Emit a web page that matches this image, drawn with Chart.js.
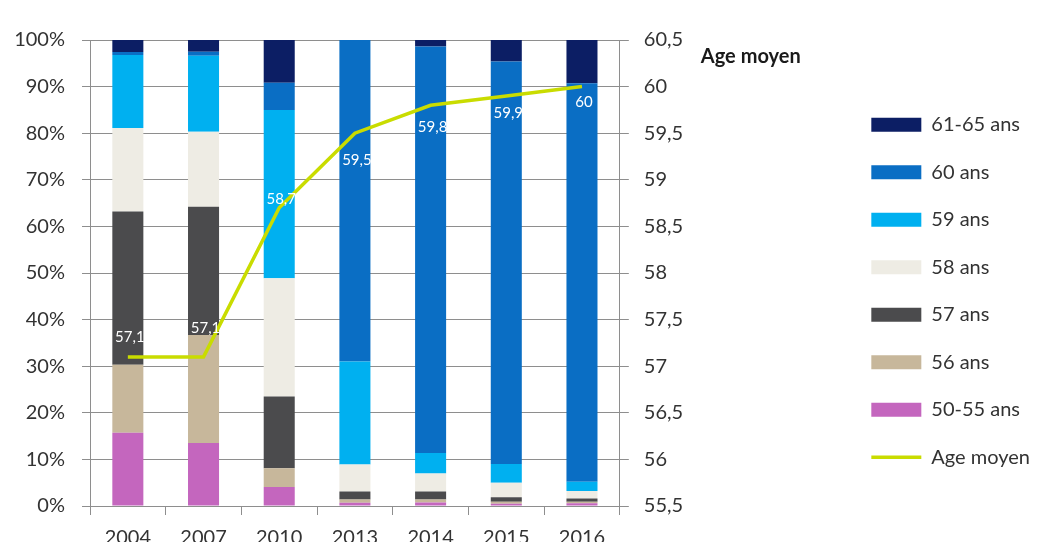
<!DOCTYPE html>
<html><head><meta charset="utf-8">
<script src="https://cdn.jsdelivr.net/npm/chart.js@4.4.0/dist/chart.umd.min.js"></script>
<style>html,body{margin:0;padding:0;background:#fff;}#wrap{width:1044px;height:547px;position:relative;}</style>
</head><body><div id="wrap"><canvas id="c"></canvas></div>
<script>
const categories = ['2004','2007','2010','2013','2014','2015','2016'];
const seriesNames = ['50-55 ans','56 ans','57 ans','58 ans','59 ans','60 ans','61-65 ans'];
const s5055 = [15.7, 13.5, 4.1, 0.7, 0.75, 0.5, 0.6];
const s56   = [14.6, 23.2, 4.0, 0.7, 0.65, 0.4, 0.3];
const s57   = [32.9, 27.5, 15.4, 1.7, 1.7, 1.0, 0.7];
const s58   = [17.9, 16.1, 25.4, 5.8, 3.9, 3.1, 1.6];
const s59   = [15.7, 16.3, 36.1, 22.1, 4.4, 4.0, 2.0];
const s60   = [0.6, 0.9, 5.8, 69.0, 87.2, 86.4, 85.5];
const s6165 = [2.6, 2.5, 9.2, 0.0, 1.4, 4.6, 9.3];
const lineName = 'Age moyen';
const ageMoyen = [57.1, 57.1, 58.7, 59.5, 59.8, 59.9, 60];
const pctTickLabels = ['0%','10%','20%','30%','40%','50%','60%','70%','80%','90%','100%'];
const ageTickLabels = ['55,5','56','56,5','57','57,5','58','58,5','59','59,5','60','60,5'];

const barSeries = [s5055, s56, s57, s58, s59, s60, s6165];
const barColors = ['#C466BE', '#C7B79B', '#4B4B4D', '#EEECE4', '#00B0F0', '#0A6EC4', '#0C1E64'];
const FONT = 'Lato, "Open Sans", sans-serif';
const TXT = '#333333';
const GRID = '#8E8E8E';

const datasets = barSeries.map((vals, i) => ({
  type: 'bar', label: seriesNames[i], data: vals, backgroundColor: barColors[i],
  borderWidth: 0, yAxisID: 'y', stack: 'ages', pointStyle: 'rect',
  barPercentage: 0.41, categoryPercentage: 1.0
}));
datasets.push({
  type: 'line', label: lineName, data: ageMoyen, yAxisID: 'y1',
  borderColor: '#C9DC00', backgroundColor: '#C9DC00', borderWidth: 3.5,
  pointRadius: 0, pointHoverRadius: 0, pointStyle: 'line', tension: 0, order: -1, fill: false
});
const lineIndex = datasets.length - 1;

const ageLabels = {
  id: 'ageLabels',
  afterDatasetsDraw(chart, args, opts) {
    const ctx = chart.ctx;
    const meta = chart.getDatasetMeta(lineIndex);
    ctx.save();
    ctx.font = '15px ' + FONT;
    ctx.fillStyle = '#FFFFFF';
    ctx.textAlign = 'center';
    ctx.textBaseline = 'middle';
    meta.data.forEach((pt, i) => {
      ctx.fillText(String(ageMoyen[i]).replace('.', ','), pt.x + opts.dx, pt.y + opts.dy[i]);
    });
    ctx.restore();
  }
};
const axisTitle = {
  id: 'axisTitle',
  afterDraw(chart, args, opts) {
    const ctx = chart.ctx, a = chart.chartArea;
    ctx.save();
    ctx.font = 'bold 20px ' + FONT;
    ctx.fillStyle = '#1A1A1A';
    ctx.textAlign = 'left';
    ctx.textBaseline = 'middle';
    ctx.fillText(opts.text, a.right + opts.dx, a.top + opts.dy);
    ctx.restore();
  }
};

new Chart(document.getElementById('c'), {
  data: { labels: categories, datasets },
  plugins: [ageLabels, axisTitle],
  options: {
    responsive: true, maintainAspectRatio: false, animation: false,
    layout: { padding: { top: 40, left: 0, right: 4, bottom: 5 } },
    plugins: {
      tooltip: { enabled: false },
      ageLabels: { dx: 2, dy: [-20, -29, -9, 27, 22, 17, 16] },
      axisTitle: { text: 'Age moyen', dx: 81, dy: 17 },
      legend: {
        position: 'right', align: 'center', maxWidth: 260,
        labels: {
          usePointStyle: true, pointStyleWidth: 50, boxHeight: 14, padding: 27.5,
          color: TXT, font: { family: FONT, size: 20 },
          sort: (a, b) => {
            const k = it => it.datasetIndex === lineIndex ? -1 : it.datasetIndex;
            return k(b) - k(a);
          }
        }
      }
    },
    scales: {
      x: {
        stacked: true,
        grid: { display: true, drawOnChartArea: false, drawTicks: true, tickLength: 9, color: GRID, offset: true },
        border: { color: GRID },
        ticks: { color: TXT, font: { family: FONT, size: 20 }, padding: 11, maxRotation: 0 },
        afterFit: s => { s.height = 36; }
      },
      y: {
        stacked: true, position: 'left', min: 0, max: 100,
        grid: { color: GRID, tickLength: 8, drawTicks: true },
        border: { color: GRID },
        ticks: { stepSize: 10, padding: 17, color: TXT, font: { family: FONT, size: 20 },
          callback: (v, i) => pctTickLabels[i] },
        afterFit: s => { s.width = 90; }
      },
      y1: {
        position: 'right', min: 55.5, max: 60.5,
        grid: { drawOnChartArea: false, tickLength: 9, color: GRID },
        border: { color: GRID },
        ticks: { stepSize: 0.5, padding: 15, color: TXT, font: { family: FONT, size: 20 },
          callback: (v, i) => ageTickLabels[i] },
        afterFit: s => { s.width = 224; }
      }
    }
  }
});
</script></body></html>
